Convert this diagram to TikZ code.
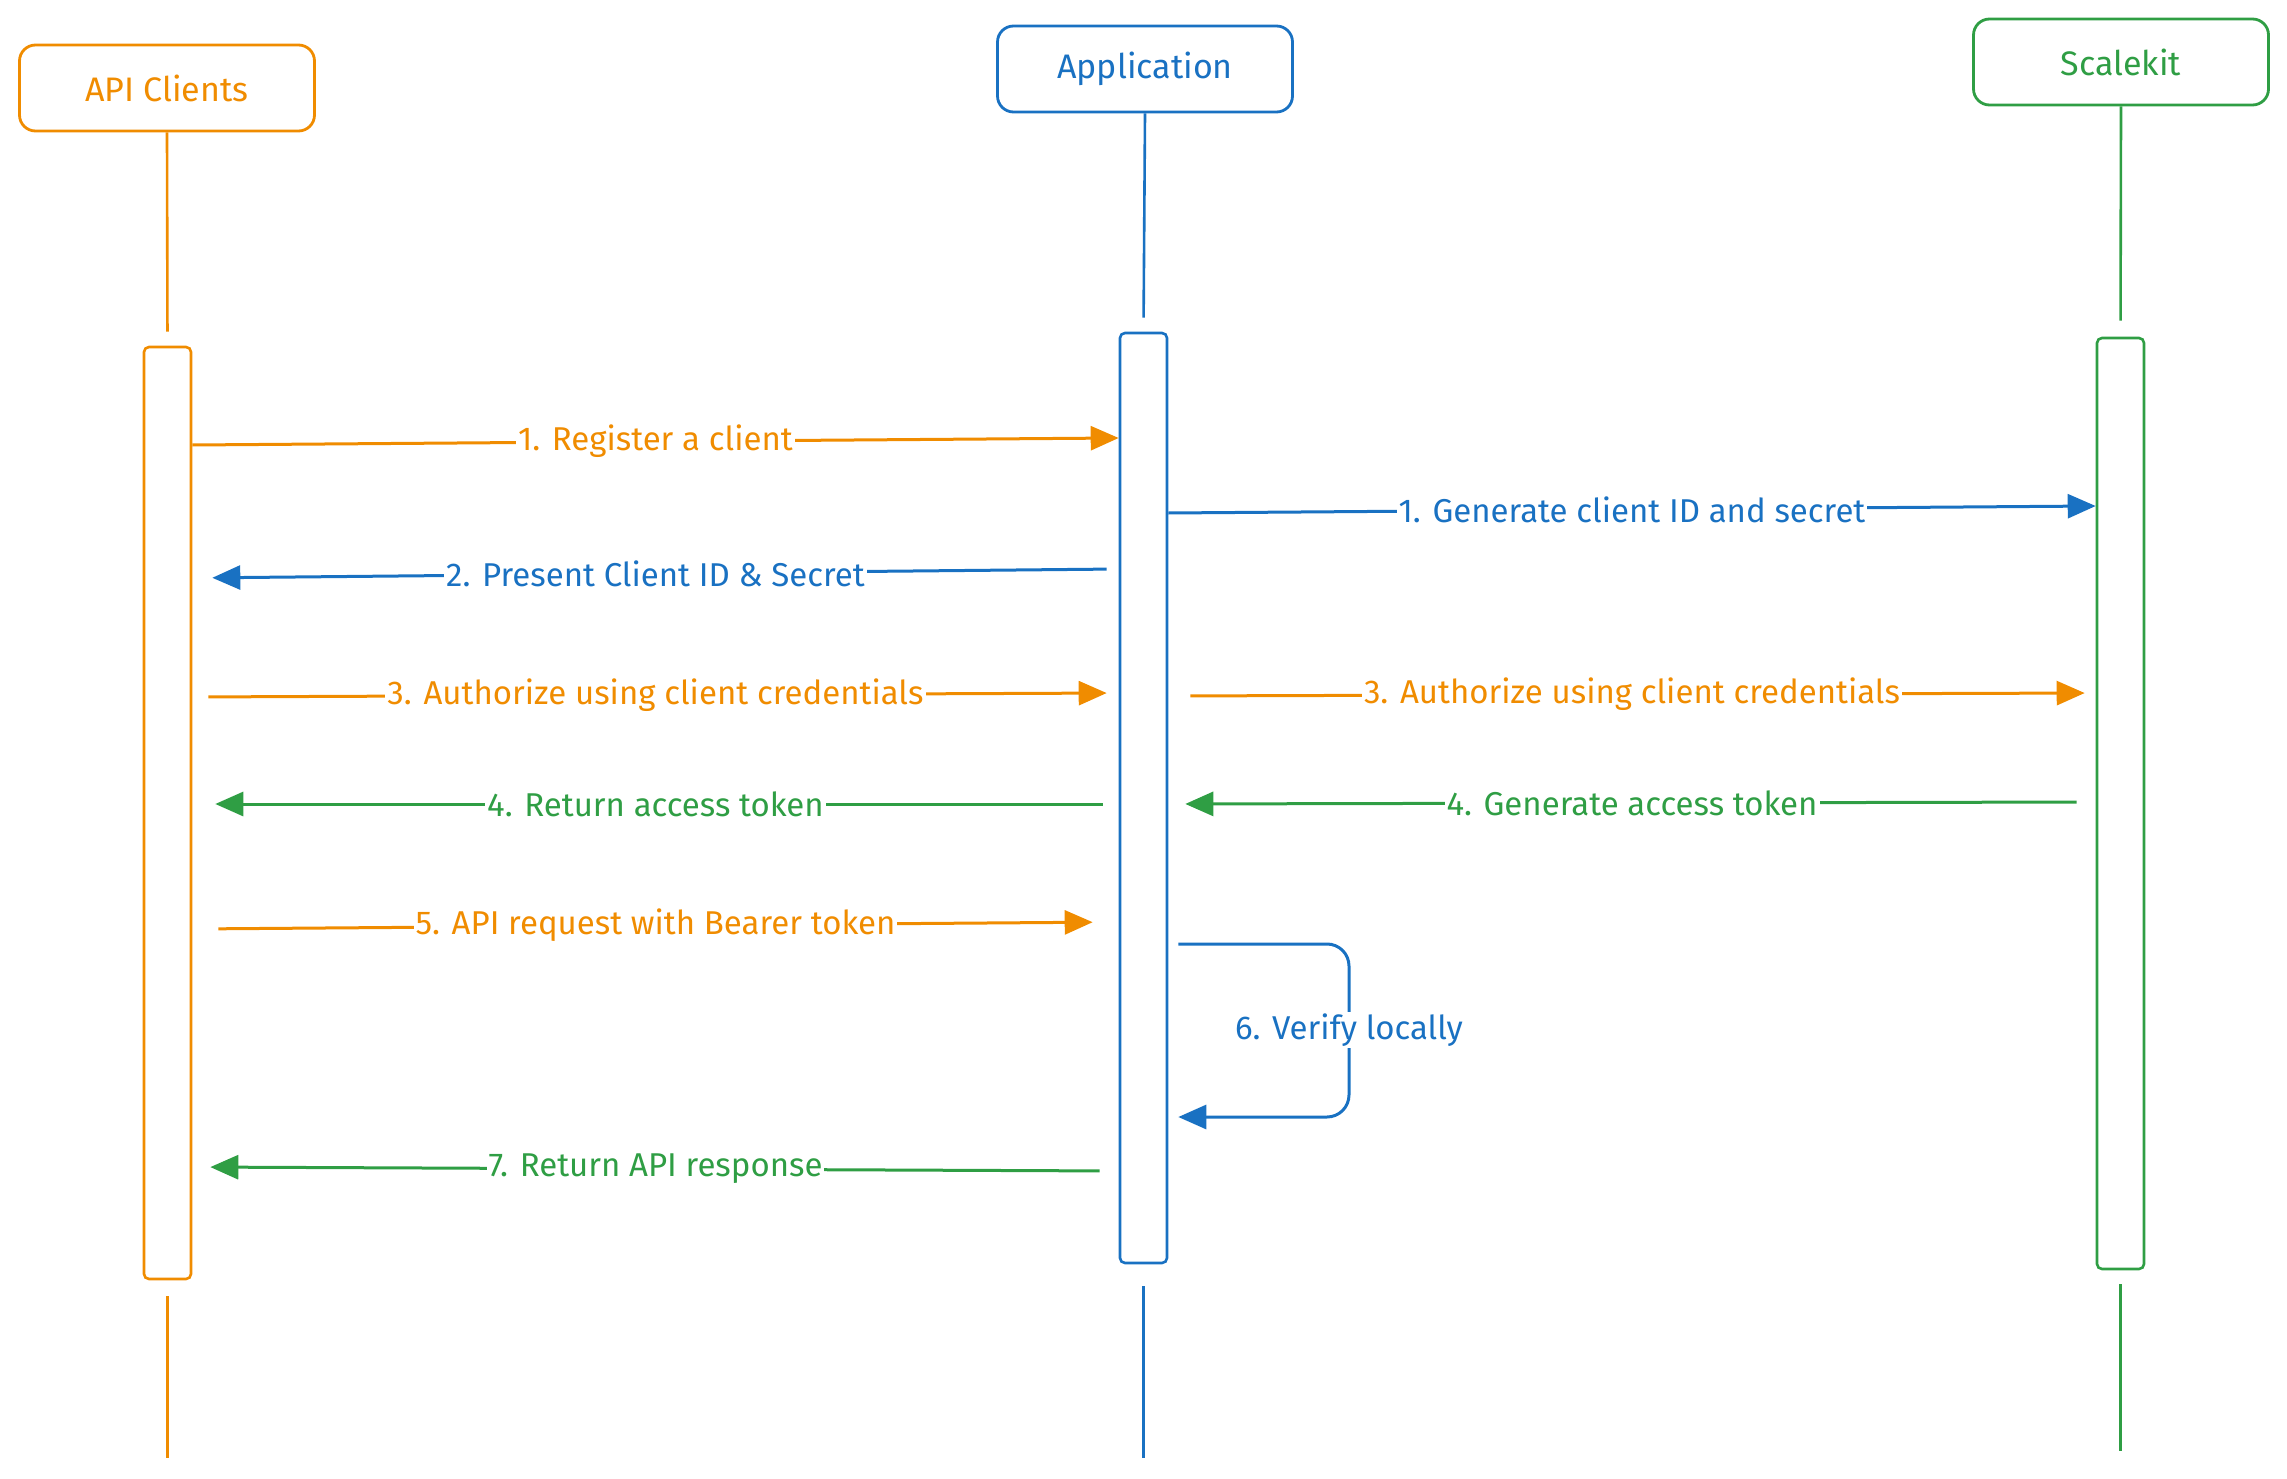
\documentclass[tikz,border=0pt]{standalone}
\usepackage{fontspec}
\setmainfont{Fira Sans}
\usetikzlibrary{arrows.meta,calc}
\definecolor{cor}{HTML}{F08C00}
\definecolor{cbl}{HTML}{1971C2}
\definecolor{cgr}{HTML}{2F9E44}
\begin{document}
\begin{tikzpicture}[x=1pt,y=-1pt,
  actor/.style={draw, rounded corners=16pt, line width=2.8pt, minimum width=295pt,
    minimum height=86pt, fill=white, font=\fontsize{34}{40}\selectfont, inner sep=0pt},
  act/.style={draw, rounded corners=5pt, line width=2.6pt, minimum width=47pt, inner sep=0pt},
  life/.style={line width=2.6pt},
  msg/.style={line width=3pt, -{Triangle[length=28pt,width=24pt]}},
  lbl/.style={fill=white, inner sep=2pt, font=\fontsize{33}{40}\selectfont}]
\useasboundingbox (0,0) rectangle (2287,1479);

% actors
\node[actor, draw=cor, text=cor] (c1) at (167,88) {API Clients};
\node[actor, draw=cbl, text=cbl] (c2) at (1145,69) {Application};
\node[actor, draw=cgr, text=cgr] (c3) at (2121,62) {Scalekit};

% activation bars
\node[act, draw=cor, minimum height=932pt] (a1) at (167.5,813) {};
\node[act, draw=cbl, minimum height=930pt] (a2) at (1143.5,798) {};
\node[act, draw=cgr, minimum height=931pt] (a3) at (2120.5,803.5) {};

% lifeline ends
\coordinate (e1) at (167.5,1458);
\coordinate (e2) at (1143.5,1458);
\coordinate (e3) at (2120.5,1451);

\draw[life, cor, shorten >=14pt] (c1.south) -- (a1.north);
\draw[life, cbl, shorten >=14pt] (c2.south) -- (a2.north);
\draw[life, cgr, shorten >=16pt] (c3.south) -- (a3.north);
\draw[life, cor, shorten <=16pt] (a1.south) -- (e1);
\draw[life, cbl, shorten <=22pt] (a2.south) -- (e2);
\draw[life, cgr, shorten <=14pt] (a3.south) -- (e3);

% messages
\draw[msg, cor] (a1.east |- 0,445) -- node[lbl, text=cor] {1. Register a client} (a2.west |- 0,438);
\draw[msg, cbl] (a2.east |- 0,513) -- node[lbl, text=cbl] {1. Generate client ID and secret} (a3.west |- 0,506);
\draw[msg, cbl, shorten <=12pt, shorten >=20pt] (a2.west |- 0,569) -- node[lbl, text=cbl] {2. Present Client ID \& Secret} (a1.east |- 0,578);
\draw[msg, cor, shorten <=16pt, shorten >=12pt] (a1.east |- 0,697) -- node[lbl, text=cor] {3. Authorize using client credentials} (a2.west |- 0,693);
\draw[msg, cor, shorten <=22pt, shorten >=11pt] (a2.east |- 0,696) -- node[lbl, text=cor] {3. Authorize using client credentials} (a3.west |- 0,693);
\draw[msg, cgr, shorten <=16pt, shorten >=23pt] (a2.west |- 0,804) -- node[lbl, text=cgr] {4. Return access token} (a1.east |- 0,804);
\draw[msg, cgr, shorten <=19pt, shorten >=17pt] (a3.west |- 0,802) -- node[lbl, text=cgr] {4. Generate access token} (a2.east |- 0,804);
\draw[msg, cor, shorten <=26pt, shorten >=26pt] (a1.east |- 0,929) -- node[lbl, text=cor] {5. API request with Bearer token} (a2.west |- 0,922);

% self message
\coordinate (vx) at (1349,1030);
\draw[msg, cbl, rounded corners=22pt, shorten <=10pt, shorten >=10pt]
  (a2.east |- 0,944) -| (vx) |- (a2.east |- 0,1117);
\node[lbl, text=cbl] (vl) at (vx) {6. Verify locally};

\draw[msg, cgr, shorten <=19pt, shorten >=18pt] (a2.west |- 0,1171) -- node[lbl, text=cgr] {7. Return API response} (a1.east |- 0,1167);
\end{tikzpicture}
\end{document}
